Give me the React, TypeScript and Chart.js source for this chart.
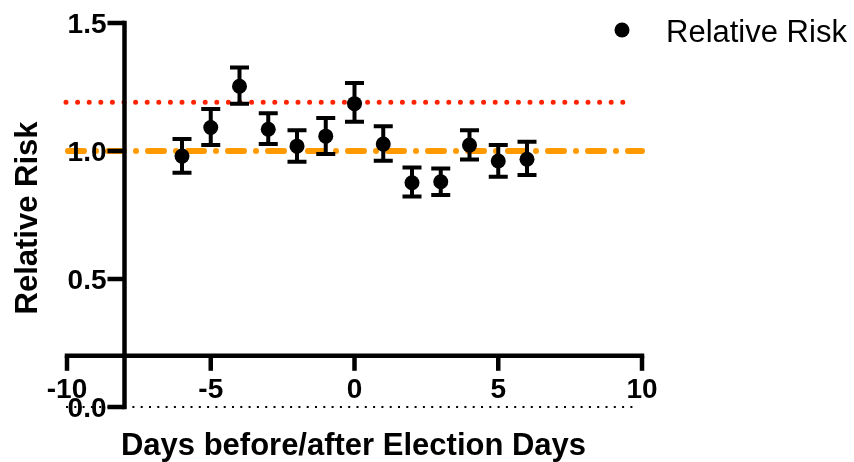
import React, { useEffect, useRef } from "react";
import { Chart, registerables } from "chart.js";

Chart.register(...registerables);

// ---- Data ----
const days = [-6, -5, -4, -3, -2, -1, 0, 1, 2, 3, 4, 5, 6];
const relativeRisk = [0.98, 1.092, 1.253, 1.085, 1.019, 1.058, 1.185, 1.027, 0.876, 0.88, 1.023, 0.961, 0.968];
const ciLower = [0.915, 1.023, 1.185, 1.027, 0.958, 0.988, 1.114, 0.962, 0.822, 0.828, 0.967, 0.899, 0.906];
const ciUpper = [1.047, 1.164, 1.326, 1.147, 1.081, 1.129, 1.266, 1.097, 0.936, 0.932, 1.081, 1.023, 1.036];

const xTicks = [-10, -5, 0, 5, 10];
const xTickLabels = ["-10", "-5", "0", "5", "10"];
const yTicks = [0, 0.5, 1.0, 1.5];
const yTickLabels = ["0.0", "0.5", "1.0", "1.5"];

const thresholdHigh = 1.19;
const thresholdOne = 1.0;
const xAxisAtY = 0.2;
const yAxisAtX = -8;

const seriesLabel = "Relative Risk";
const xTitle = "Days before/after Election Days";
const yTitle = "Relative Risk";

const FONT = '"Liberation Sans", Arial, Helvetica, sans-serif';

const prismPlugin = {
  id: "prismDecor",
  beforeDatasetsDraw(chart: any) {
    const { ctx } = chart;
    const x = chart.scales.x;
    const y = chart.scales.y;
    const px = (v: number) => x.getPixelForValue(v);
    const py = (v: number) => y.getPixelForValue(v);
    const xMin = xTicks[0];
    const xMax = xTicks[xTicks.length - 1];

    ctx.save();
    // zero dotted line
    ctx.strokeStyle = "#000";
    ctx.lineWidth = 2;
    ctx.lineCap = "butt";
    ctx.setLineDash([2, 6.3]);
    ctx.beginPath();
    ctx.moveTo(px(xMin) - 1, py(0));
    ctx.lineTo(px(xMax) - 4, py(0));
    ctx.stroke();

    // red dotted threshold
    ctx.strokeStyle = "#ff2200";
    ctx.lineWidth = 5;
    ctx.lineCap = "round";
    ctx.setLineDash([0, 11.6]);
    ctx.beginPath();
    ctx.moveTo(px(xMin) - 1, py(thresholdHigh));
    ctx.lineTo(px(xMax) - 8, py(thresholdHigh));
    ctx.stroke();

    // orange dash-dot line at 1.0
    ctx.strokeStyle = "#ff9900";
    ctx.lineWidth = 6;
    ctx.lineCap = "round";
    ctx.setLineDash([16, 12, 0, 12]);
    ctx.beginPath();
    ctx.moveTo(px(xMin) + 1, py(thresholdOne));
    ctx.lineTo(px(xMax), py(thresholdOne));
    ctx.stroke();
    ctx.setLineDash([]);

    // axes
    ctx.strokeStyle = "#000";
    ctx.lineWidth = 4.5;
    ctx.lineCap = "butt";
    const ax = px(yAxisAtX);
    const ay = py(xAxisAtY);
    ctx.beginPath();
    ctx.moveTo(ax, py(yTicks[yTicks.length - 1]) - 2.25);
    ctx.lineTo(ax, py(yTicks[0]) + 2.25);
    ctx.stroke();
    ctx.beginPath();
    ctx.moveTo(px(xMin) - 2.25, ay);
    ctx.lineTo(px(xMax) + 2.25, ay);
    ctx.stroke();

    // y ticks & labels
    ctx.fillStyle = "#000";
    ctx.font = `bold 28px ${FONT}`;
    ctx.textAlign = "right";
    ctx.textBaseline = "alphabetic";
    yTicks.forEach((t, i) => {
      ctx.beginPath();
      ctx.moveTo(ax, py(t));
      ctx.lineTo(ax - 17, py(t));
      ctx.stroke();
      ctx.fillText(yTickLabels[i], ax - 18, py(t) + 10);
    });

    // x ticks & labels
    ctx.textAlign = "center";
    xTicks.forEach((t, i) => {
      ctx.beginPath();
      ctx.moveTo(px(t), ay);
      ctx.lineTo(px(t), ay + 15);
      ctx.stroke();
      ctx.fillText(xTickLabels[i], px(t), ay + 42);
    });

    // error bars
    ctx.lineWidth = 4;
    days.forEach((d, i) => {
      const cx = px(d);
      const top = py(ciUpper[i]);
      const bot = py(ciLower[i]);
      ctx.beginPath();
      ctx.moveTo(cx, top);
      ctx.lineTo(cx, bot);
      ctx.moveTo(cx - 9.5, top);
      ctx.lineTo(cx + 9.5, top);
      ctx.moveTo(cx - 9.5, bot);
      ctx.lineTo(cx + 9.5, bot);
      ctx.stroke();
    });
    ctx.restore();
  },
  afterDraw(chart: any) {
    const { ctx } = chart;
    ctx.save();
    ctx.fillStyle = "#000";
    // axis titles
    ctx.font = `bold 31px ${FONT}`;
    ctx.textAlign = "center";
    ctx.textBaseline = "alphabetic";
    ctx.fillText(xTitle, 353.5, 455);
    ctx.save();
    ctx.translate(37, 218);
    ctx.rotate(-Math.PI / 2);
    ctx.fillText(yTitle, 0, 0);
    ctx.restore();

    // legend
    ctx.beginPath();
    ctx.arc(622, 30, 7.5, 0, Math.PI * 2);
    ctx.fill();
    ctx.font = `31px ${FONT}`;
    ctx.textAlign = "left";
    ctx.fillText(seriesLabel, 666, 41.5);
    ctx.restore();
  },
};

export default function App() {
  const ref = useRef<HTMLCanvasElement>(null);
  useEffect(() => {
    const chart = new Chart(ref.current as HTMLCanvasElement, {
      type: "scatter",
      data: {
        datasets: [
          {
            label: seriesLabel,
            data: days.map((d, i) => ({ x: d, y: relativeRisk[i] })),
            pointRadius: 7.5,
            pointHoverRadius: 7.5,
            pointBackgroundColor: "#000",
            pointBorderWidth: 0,
            showLine: false,
          },
        ],
      },
      options: {
        animation: false,
        responsive: false,
        devicePixelRatio: 1,
        layout: { padding: { left: 67, right: 212, top: 23, bottom: 55 } },
        scales: {
          x: { type: "linear", min: xTicks[0], max: xTicks[xTicks.length - 1], display: false },
          y: { type: "linear", min: yTicks[0], max: yTicks[yTicks.length - 1], display: false },
        },
        plugins: {
          legend: { display: false },
          tooltip: { enabled: false },
        },
      },
      plugins: [prismPlugin],
    });
    return () => chart.destroy();
  }, []);
  return (
    <div style={{ position: "fixed", left: 0, top: 0, width: 854, height: 462, background: "#fff" }}>
      <canvas ref={ref} width={854} height={462} style={{ display: "block" }} />
    </div>
  );
}
